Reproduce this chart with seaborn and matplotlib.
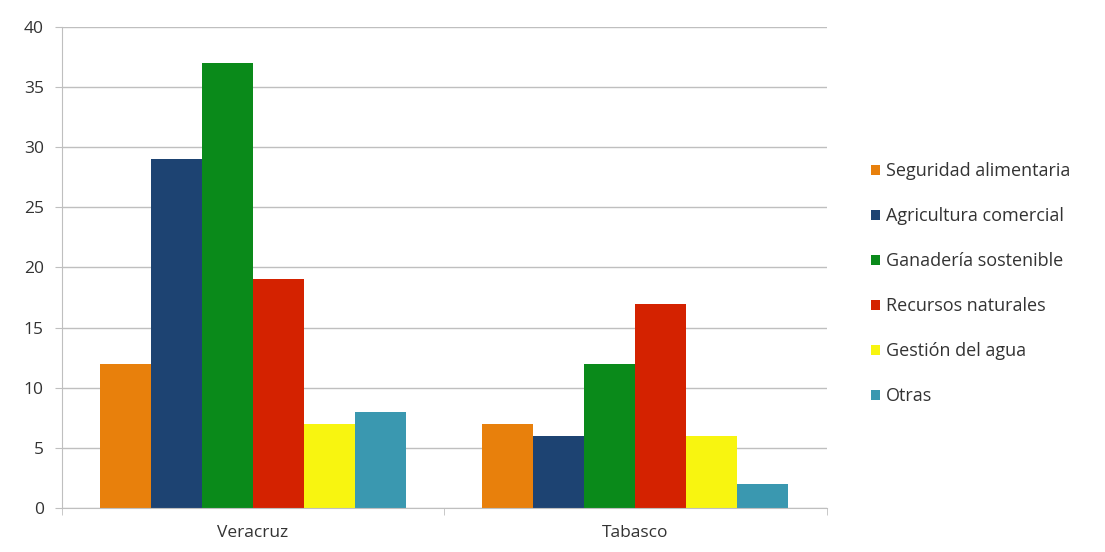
import pandas as pd
import matplotlib.pyplot as plt
import seaborn as sns

# Data
states = ['Veracruz', 'Tabasco']
categories = ['Seguridad alimentaria', 'Agricultura comercial', 'Ganadería sostenible',
              'Recursos naturales', 'Gestión del agua', 'Otras']
veracruz = [12, 29, 37, 19, 7, 8]
tabasco = [7, 6, 12, 17, 6, 2]
colors = ['#E8800C', '#1D4372', '#0A8A1A', '#D42200', '#F8F510', '#3A98B0']

df = pd.DataFrame({
    'estado': [states[0]] * len(categories) + [states[1]] * len(categories),
    'categoria': categories * 2,
    'valor': veracruz + tabasco,
})

sns.set_style('white')
plt.rcParams['font.family'] = ['Open Sans', 'DejaVu Sans']

fig = plt.figure(figsize=(11.05, 5.52), dpi=100)
ax = fig.add_axes([0.056, 0.08, 0.692, 0.871])

sns.barplot(data=df, x='estado', y='valor', hue='categoria', hue_order=categories,
            palette=colors, width=0.8, gap=0, saturation=1, linewidth=0, ax=ax)

ax.set_xlim(-0.5, 1.5)
ax.set_ylim(0, 40)
ax.set_yticks(range(0, 41, 5))
ax.yaxis.grid(True, color='#BFBFBF', linewidth=1)
ax.set_axisbelow(True)
for s in ['top', 'right']:
    ax.spines[s].set_visible(False)
ax.spines['left'].set_color('#BFBFBF')
ax.spines['bottom'].set_color('#BFBFBF')
ax.tick_params(axis='y', left=True, length=5, color='#BFBFBF', labelsize=12.5, labelcolor='#333333', pad=8)
ax.tick_params(axis='x', bottom=False, labelsize=12.5, labelcolor='#333333', pad=9)
ax.set_xticks([-0.5, 0.5, 1.5], minor=True)
ax.tick_params(axis='x', which='minor', bottom=True, length=5, color='#BFBFBF')
ax.set_xlabel('')
ax.set_ylabel('')

ax.legend(loc='center left', bbox_to_anchor=(1.037, 0.466), frameon=False,
          fontsize=13, labelspacing=1.5, handlelength=0.5, handleheight=0.5,
          handletextpad=0.3, labelcolor='#333333')

fig.savefig('out.png', dpi=100)
